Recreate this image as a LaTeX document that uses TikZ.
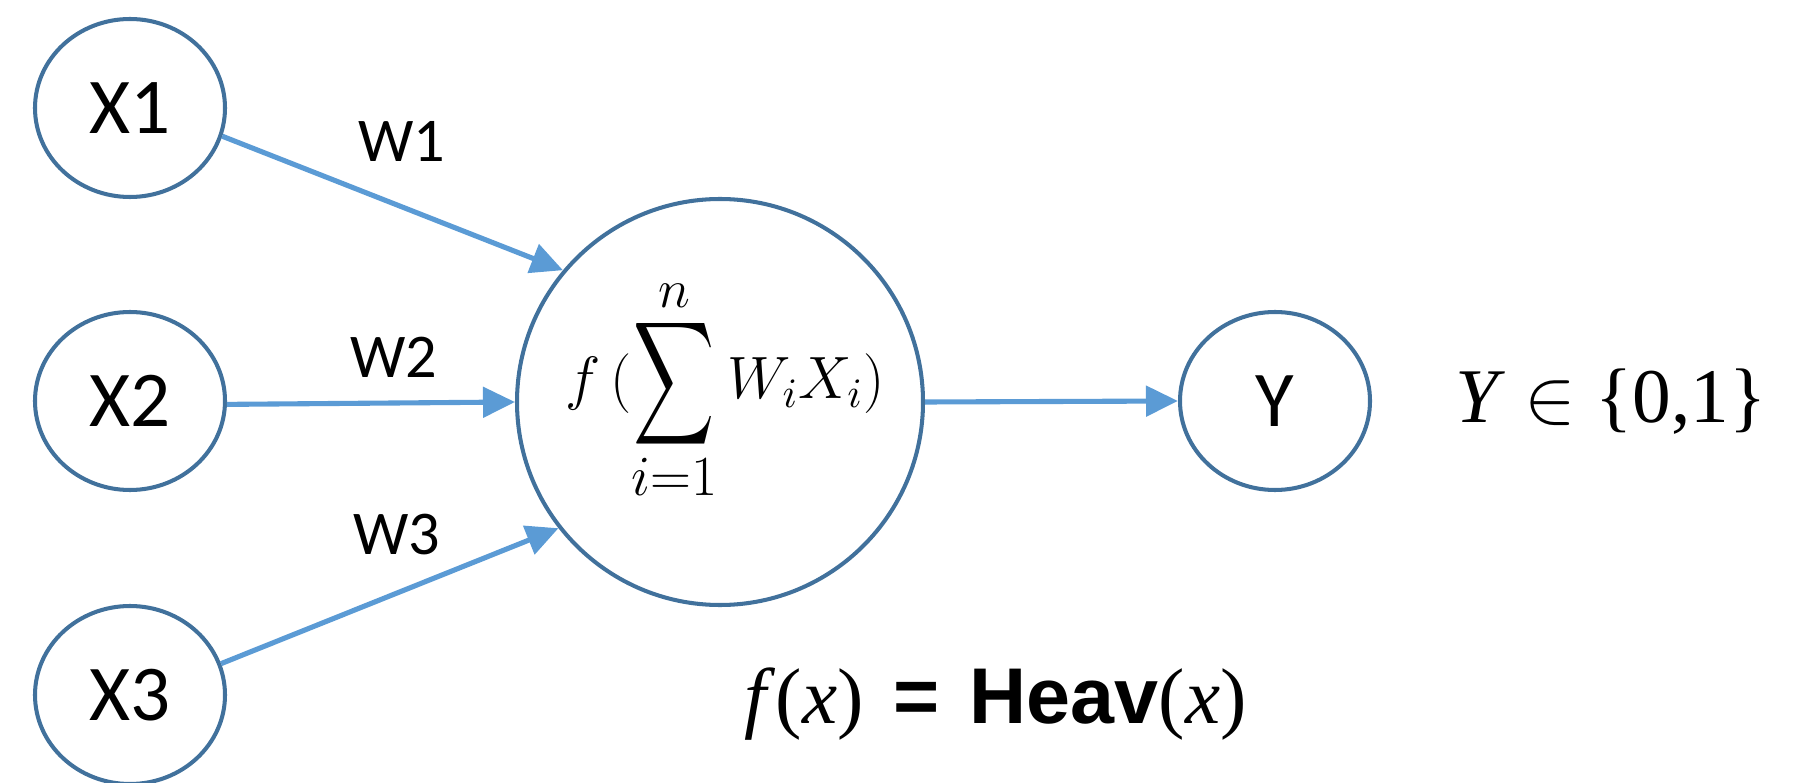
\RequirePackage{fix-cm}
\documentclass[tikz,border=0pt]{standalone}
\usepackage{fontspec}
\usepackage{graphicx}
\usetikzlibrary{shapes.geometric, arrows.meta}
\newfontfamily\calib{Carlito}
\newfontfamily\timesf{Liberation Serif}
\newfontfamily\arialf{Liberation Sans}
\definecolor{NetLine}{HTML}{41719C}
\definecolor{NetArrow}{HTML}{5B9BD5}

\begin{document}
\begin{tikzpicture}[
          inp/.style={ellipse, draw=NetLine, line width=1.15pt,
                      minimum width=1.90cm, minimum height=1.78cm,
                      inner sep=0pt, font=\calib\fontsize{22.5}{26}\selectfont},
          neuron/.style={circle, draw=NetLine, line width=1.15pt,
                         minimum size=4.06cm, inner sep=0pt},
          wl/.style={inner sep=0pt, font=\calib\fontsize{17.7}{21}\selectfont},
          arr/.style={-{Triangle[length=0.32cm, width=0.30cm]},
                      draw=NetArrow, line width=1.45pt}
        ]
        \useasboundingbox (0,0) rectangle (17.93,7.82);

        % Inputs
        \node[inp] (x1) at (1.30, 6.74) {X1};
        \node[inp] (x2) at (1.30, 3.81) {X2};
        \node[inp] (x3) at (1.30, 0.87) {X3};

        % Neuron
        \node[neuron] (sum) at (7.20, 3.80) {};
        \node[inner sep=0pt, font=\fontsize{17}{20}\selectfont]
              (fml) at ([xshift=0.05cm, yshift=0.12cm]sum.center)
              {$f\,(\mathop{\vcenter{\hbox{\scalebox{1.6}[2.45]{$\displaystyle\sum$}}}}%
                \limits_{\hbox{\scalebox{0.95}{$i{=}1$}}}^{\hbox{\scalebox{0.91}{$n$}}}
                W_iX_i)$};

        % Output
        \node[inp] (y) at (12.75, 3.81) {Y};

        \draw[arr] (x1.-17) -- (sum.140);
        \draw[arr] (x2.-2)  -- (sum.west);
        \draw[arr] (x3.19)  -- (sum.218);
        \draw[arr] (sum.east) -- (y.west);

        \node[wl] (w1) at (4.02, 6.41) {W1};
        \node[wl] (w2) at (3.94, 4.25) {W2};
        \node[wl] (w3) at (3.97, 2.47) {W3};

        \node[anchor=base west, inner sep=0pt,
              font=\timesf\fontsize{22}{26}\selectfont]
              (yset) at (14.55, 3.59) {\textit{Y} $\in$ \{0,1\}};
        \node[anchor=base west, inner sep=0pt,
              font=\timesf\fontsize{22.5}{26}\selectfont]
              (heav) at (7.44, 0.59)
              {\textit{f}(\textit{x})\hspace{0.3cm}{\arialf\bfseries =}\hspace{0.3cm}{\arialf\bfseries Heav}(\textit{x})};
      \end{tikzpicture}
\end{document}
